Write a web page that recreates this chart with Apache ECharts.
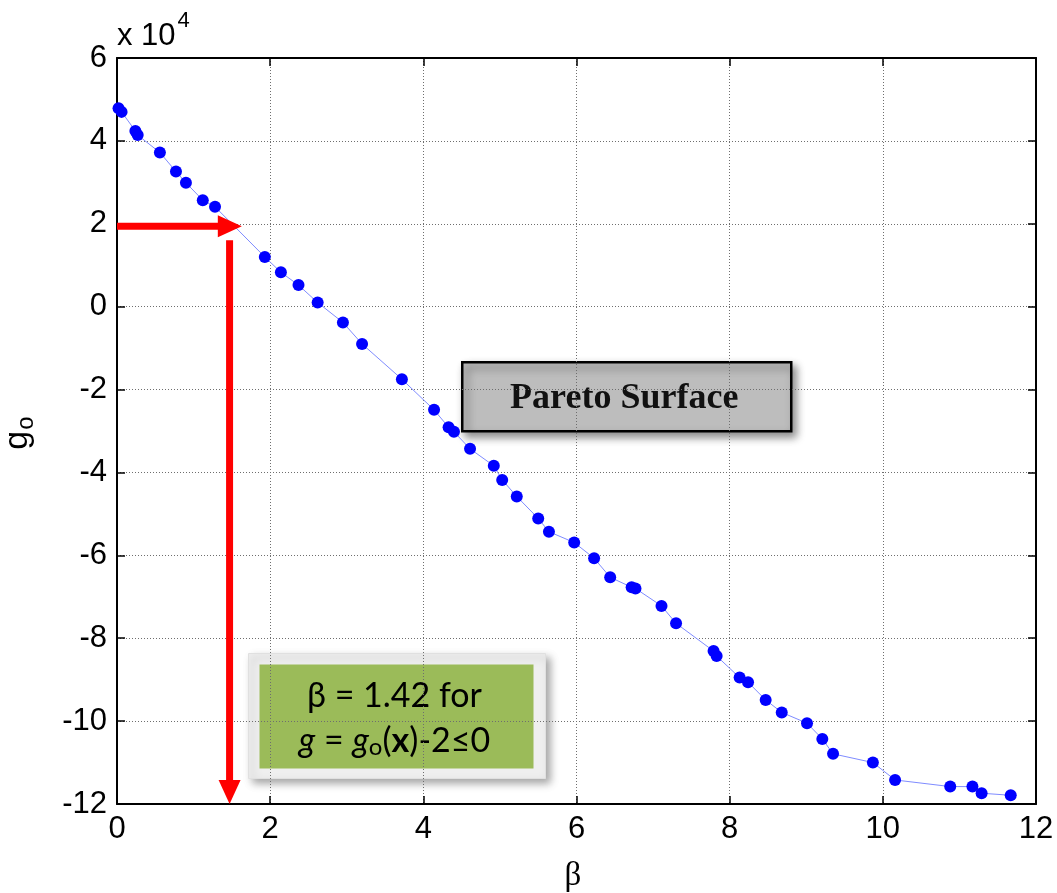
<!DOCTYPE html>
<html>
<head>
<meta charset="utf-8">
<title>Pareto Surface</title>
<script src="https://cdn.jsdelivr.net/npm/echarts@6/dist/echarts.min.js"></script>
<style>
  html, body { margin: 0; padding: 0; background: #ffffff; }
  #chart { width: 1057px; height: 893px; }
</style>
</head>
<body>
<div id="chart"></div>
<script>
// Reliability index beta and objective g_o (in units of 1e4) along the Pareto front
const beta = [0.02, 0.06, 0.24, 0.27, 0.56, 0.77, 0.90, 1.12, 1.28, 1.93, 2.14, 2.37, 2.62, 2.95, 3.20,
  3.72, 4.14, 4.33, 4.40, 4.61, 4.92, 5.03, 5.22, 5.50, 5.64, 5.97, 6.23, 6.44, 6.72, 6.77,
  7.11, 7.30, 7.79, 7.83, 8.13, 8.24, 8.47, 8.68, 9.01, 9.21, 9.35, 9.87, 10.16, 10.88, 11.17,
  11.29, 11.67];
const goE4 = [4.79, 4.70, 4.24, 4.14, 3.72, 3.26, 2.99, 2.57, 2.41, 1.20, 0.83, 0.52, 0.10, -0.38, -0.90,
  -1.75, -2.49, -2.91, -3.02, -3.43, -3.84, -4.18, -4.58, -5.11, -5.43, -5.69, -6.07, -6.53, -6.77, -6.80,
  -7.22, -7.64, -8.31, -8.43, -8.95, -9.06, -9.49, -9.79, -10.05, -10.43, -10.79, -11.00, -11.42, -11.58, -11.58,
  -11.74, -11.79];

// Axis ranges (g_o axis is scaled by 1e4)
const xRange = [0, 12, 2];
const yRange = [-12, 6, 2];

// Read-off arrows: [x0, y0, x1, y1]
const arrows = [
  [0, 1.94, 1.63, 1.94],
  [1.47, 1.60, 1.47, -12]
];

const points = beta.map((b, i) => [b, goE4[i]]);

const chart = echarts.init(document.getElementById('chart'), null, { renderer: 'canvas' });

const tickFont = { fontFamily: 'Liberation Sans, Arial, sans-serif', fontSize: 31, color: '#000000' };
const gridLine = { show: true, lineStyle: { color: '#6e6e6e', width: 1, type: [1, 2] } };
const frameLine = { show: true, onZero: false, lineStyle: { color: '#000000', width: 2 } };
const innerTick = { show: true, inside: true, length: 8, lineStyle: { color: '#000000', width: 1.5 } };

const option = {
  backgroundColor: '#ffffff',
  animation: false,
  grid: { left: 117, right: 21, top: 58, bottom: 89, containLabel: false },
  xAxis: [
    {
      type: 'value', position: 'bottom', min: xRange[0], max: xRange[1], interval: xRange[2],
      axisLine: frameLine, axisTick: innerTick, splitLine: gridLine,
      axisLabel: Object.assign({ margin: 10 }, tickFont)
    },
    {
      type: 'value', position: 'top', min: xRange[0], max: xRange[1], interval: xRange[2],
      axisLine: frameLine, axisTick: innerTick, splitLine: { show: false }, axisLabel: { show: false }
    }
  ],
  yAxis: [
    {
      type: 'value', position: 'left', min: yRange[0], max: yRange[1], interval: yRange[2],
      axisLine: frameLine, axisTick: innerTick, splitLine: gridLine,
      axisLabel: Object.assign({ margin: 10 }, tickFont)
    },
    {
      type: 'value', position: 'right', min: yRange[0], max: yRange[1], interval: yRange[2],
      axisLine: frameLine, axisTick: innerTick, splitLine: { show: false }, axisLabel: { show: false }
    }
  ],
  series: [
    {
      type: 'line',
      data: points,
      xAxisIndex: 0, yAxisIndex: 0,
      symbol: 'circle', symbolSize: 12,
      itemStyle: { color: '#0000ff' },
      lineStyle: { color: '#7f8cff', width: 1 },
      z: 3
    },
    {
      type: 'custom',
      data: arrows,
      xAxisIndex: 0, yAxisIndex: 0,
      encode: { x: [0, 2], y: [1, 3] },
      clip: false,
      z: 4,
      renderItem: function (params, api) {
        const p0 = api.coord([api.value(0), api.value(1)]);
        const p1 = api.coord([api.value(2), api.value(3)]);
        const dx = p1[0] - p0[0], dy = p1[1] - p0[1];
        const len = Math.hypot(dx, dy);
        const ux = dx / len, uy = dy / len;
        const nx = -uy, ny = ux;
        const headLen = 24, headW = 22;
        const bx = p1[0] - ux * headLen, by = p1[1] - uy * headLen;
        return {
          type: 'group',
          children: [
            {
              type: 'line',
              shape: { x1: p0[0], y1: p0[1], x2: bx + ux * 1, y2: by + uy * 1 },
              style: { stroke: '#ff0000', lineWidth: 7 }
            },
            {
              type: 'polygon',
              shape: { points: [[p1[0], p1[1]], [bx + nx * headW / 2, by + ny * headW / 2], [bx - nx * headW / 2, by - ny * headW / 2]] },
              style: { fill: '#ff0000' }
            }
          ]
        };
      }
    }
  ],
  graphic: [
    // axis multiplier
    {
      type: 'text', left: 117, top: 10, z: 10,
      style: {
        text: '{b|x 10}{s|4}',
        rich: {
          b: { fontFamily: 'Liberation Sans, Arial', fontSize: 31, color: '#000', padding: [14, 0, 0, 0] },
          s: { fontFamily: 'Liberation Sans, Arial', fontSize: 22, color: '#000', padding: [0, 0, 16, 2] }
        }
      }
    },
    // y axis title
    {
      type: 'text', x: 18, y: 433, rotation: Math.PI / 2, z: 10,
      style: {
        text: '{g|g}{o|o}',
        align: 'center', verticalAlign: 'middle',
        rich: {
          g: { fontFamily: 'Liberation Sans, Arial', fontSize: 34, color: '#000' },
          o: { fontFamily: 'Liberation Sans, Arial', fontSize: 24, color: '#000', padding: [16, 0, 0, 1] }
        }
      }
    },
    // x axis title
    {
      type: 'text', x: 573, y: 876, z: 10,
      style: {
        text: 'β', align: 'center', verticalAlign: 'middle',
        fontFamily: 'Liberation Serif, Times New Roman, serif', fontSize: 33, fill: '#000'
      }
    },
    // Pareto Surface label
    {
      type: 'group', left: 461, top: 361, z: 20,
      children: [
        {
          type: 'rect', shape: { x: 0, y: 0, width: 329, height: 69 },
          style: {
            fill: '#bdbdbd', stroke: '#000000', lineWidth: 2.5,
            shadowBlur: 8, shadowColor: 'rgba(0,0,0,0.45)', shadowOffsetX: 4, shadowOffsetY: 5
          }
        },
        {
          type: 'text', x: 162, y: 36,
          style: {
            text: 'Pareto Surface', align: 'center', verticalAlign: 'middle',
            fontFamily: 'Liberation Serif, Times New Roman, serif', fontWeight: 'bold', fontSize: 36, fill: '#111111'
          }
        }
      ]
    },
    // beta read-off label
    {
      type: 'group', left: 248, top: 653, z: 20,
      children: [
        {
          type: 'rect', shape: { x: 0, y: 0, width: 297, height: 125 },
          style: {
            fill: '#efefef', stroke: '#e0e0e0', lineWidth: 1,
            shadowBlur: 8, shadowColor: 'rgba(0,0,0,0.35)', shadowOffsetX: 4, shadowOffsetY: 4
          }
        },
        {
          type: 'rect', shape: { x: 11, y: 11, width: 274, height: 104 },
          style: { fill: '#9bbb59' }
        },
        {
          type: 'text', x: 146, y: 65,
          style: {
            text: '{n|β = 1.42 for}\n{i|g}{n| = }{i|g}{sub|o}{n|(}{bx|x}{n|)-2≤0}',
            align: 'center', verticalAlign: 'middle', lineHeight: 45,
            rich: {
              n: { fontFamily: 'Lato, Open Sans, sans-serif', fontSize: 34, color: '#111', lineHeight: 45 },
              i: { fontFamily: 'Lato, Open Sans, sans-serif', fontSize: 34, fontStyle: 'italic', color: '#111', lineHeight: 45 },
              sub: { fontFamily: 'Lato, Open Sans, sans-serif', fontSize: 24, color: '#111', lineHeight: 45, padding: [12, 0, 0, 0] },
              bx: { fontFamily: 'Lato, Open Sans, sans-serif', fontSize: 34, fontWeight: 'bold', color: '#111', lineHeight: 45 }
            }
          }
        }
      ]
    }
  ]
};

chart.setOption(option);
</script>
</body>
</html>
